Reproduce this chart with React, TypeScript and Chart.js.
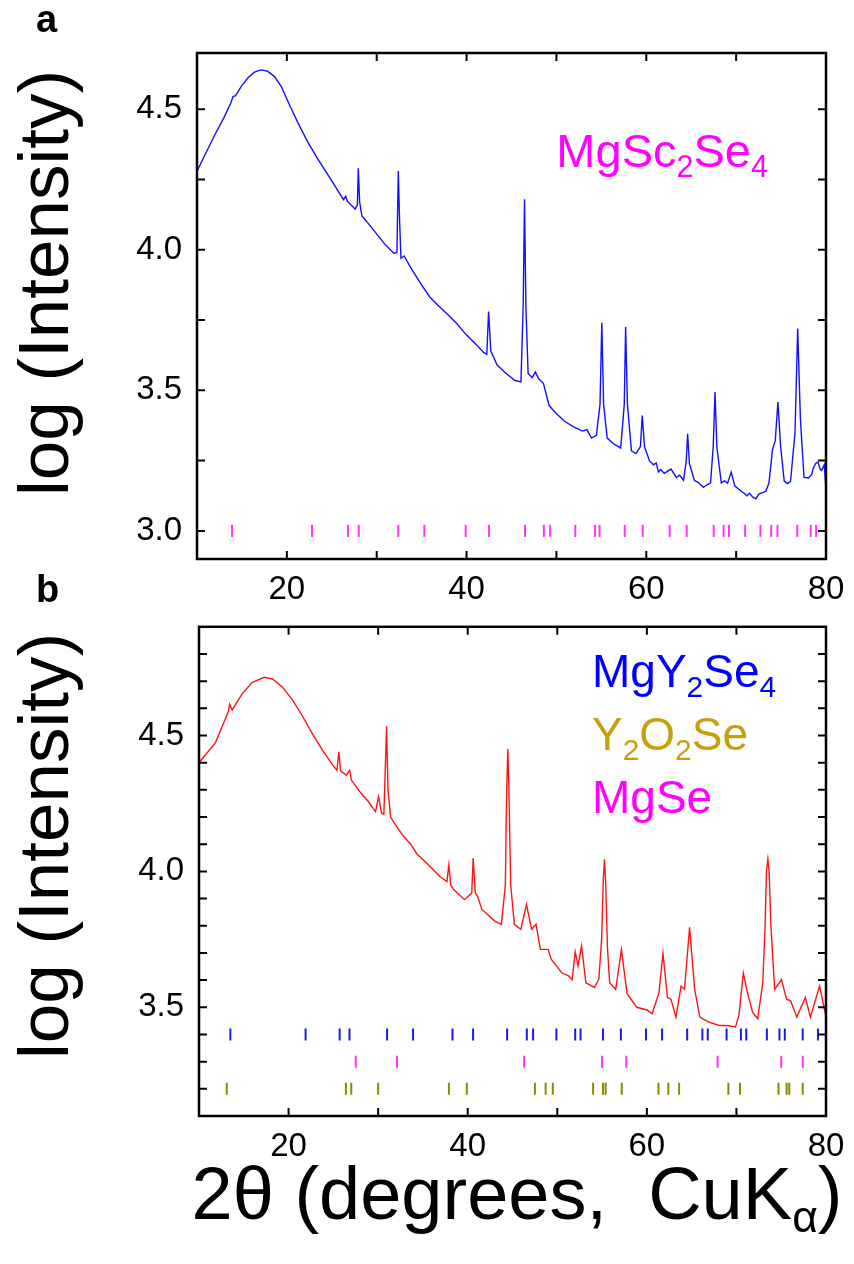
import React, { useEffect, useRef } from 'react';
import { Chart, registerables } from 'chart.js';

Chart.register(...registerables);

const FONT = '"Liberation Sans", Arial, Helvetica, sans-serif';

// ---------- data ----------
// panel a : MgSc2Se4 pattern, x = 2theta (deg), y = log(intensity)
const thetaA = [
  10.0, 11.0, 12.0, 13.0, 13.8, 14.0, 14.3, 15.0, 15.7, 16.4, 17.1, 17.8, 18.6, 19.4, 20.3, 21.3,
  22.3, 23.4, 24.4, 25.4, 26.3, 26.55, 26.75, 27.6, 27.85, 27.95, 28.1, 28.35, 28.9, 29.9, 30.9,
  31.9, 32.25, 32.4, 32.55, 32.7, 33.05, 33.9, 34.9, 35.9, 36.9, 37.9, 38.9, 39.9, 40.9, 41.9,
  42.25, 42.45, 42.7, 43.4, 44.4, 45.4, 46.05, 46.3, 46.45, 46.6, 46.85, 47.3, 47.65, 48.05, 48.55,
  48.75, 49.2, 49.9, 50.9, 51.9, 52.9, 53.4, 53.9, 54.45, 54.85, 55.05, 55.25, 55.65, 56.35, 57.15,
  57.55, 57.7, 57.9, 58.35, 58.85, 59.35, 59.55, 59.8, 60.35, 60.8, 61.1, 61.35, 61.6, 62.0, 62.75,
  63.35, 63.7, 64.15, 64.45, 64.6, 64.8, 65.35, 65.8, 66.35, 66.8, 67.15, 67.45, 67.65, 67.85, 68.35,
  68.7, 69.05, 69.45, 69.85, 70.3, 70.6, 70.85, 71.2, 71.5, 71.85, 72.2, 72.5, 72.85, 73.3, 73.65,
  74.05, 74.35, 74.65, 74.95, 75.35, 75.7, 76.05, 76.55, 76.85, 77.15, 77.55, 78.05, 78.4, 78.6,
  78.85, 79.1, 79.35, 79.5, 79.65, 79.8, 80.0,
];
const logIA = [
  4.28, 4.345, 4.41, 4.47, 4.525, 4.545, 4.548, 4.585, 4.613, 4.632, 4.64, 4.636, 4.617, 4.58, 4.515, 4.447,
  4.385, 4.325, 4.275, 4.225, 4.178, 4.19, 4.172, 4.145, 4.16, 4.29, 4.17, 4.12, 4.1, 4.06, 4.02,
  3.988, 3.99, 4.28, 4.1, 3.97, 3.978, 3.93, 3.88, 3.832, 3.8, 3.77, 3.738, 3.7, 3.668, 3.635,
  3.628, 3.78, 3.64, 3.59, 3.56, 3.535, 3.53, 3.8, 4.18, 3.8, 3.56, 3.545, 3.565, 3.54, 3.525,
  3.5, 3.445, 3.42, 3.39, 3.37, 3.355, 3.36, 3.33, 3.34, 3.45, 3.74, 3.45, 3.33, 3.31, 3.295,
  3.45, 3.725, 3.45, 3.285, 3.275, 3.3, 3.41, 3.3, 3.25, 3.235, 3.242, 3.21, 3.218, 3.205, 3.22,
  3.19, 3.198, 3.18, 3.25, 3.345, 3.24, 3.18, 3.172, 3.155, 3.165, 3.17, 3.3, 3.494, 3.3, 3.17,
  3.178, 3.17, 3.209, 3.16, 3.148, 3.14, 3.135, 3.125, 3.134, 3.12, 3.114, 3.13, 3.135, 3.14, 3.17,
  3.29, 3.32, 3.458, 3.3, 3.177, 3.168, 3.175, 3.35, 3.72, 3.4, 3.19, 3.188, 3.2, 3.225,
  3.24, 3.245, 3.22, 3.215, 3.225, 3.235, 3.15,
];

// panel b : MgY2Se4 sample
const thetaB = [
  10.0, 11.84, 13.3, 13.41, 13.71, 14.83, 15.96, 17.27, 18.21, 19.33, 20.45, 21.58, 22.7, 23.82, 24.95,
  25.4, 25.62, 25.8, 26.45, 26.82, 27.01, 27.94, 28.88, 29.7, 30.05, 30.38, 30.64, 30.8, 30.94, 31.1,
  31.39, 31.88, 32.81, 33.64, 34.31, 35.43, 36.93, 37.68, 37.9, 38.1, 38.43, 39.64, 40.45, 40.61, 40.85,
  41.1, 41.58, 43.03, 43.76, 44.2, 44.35, 44.48, 44.6, 44.8, 45.21, 45.93, 46.56, 47.14, 47.63, 48.11,
  48.98, 49.32, 50.52, 51.25, 51.66, 52.0, 52.32, 52.71, 53.19, 54.16, 54.64, 54.95, 55.15, 55.27, 55.4,
  55.6, 55.85, 56.52, 57.16, 57.79, 58.88, 60.02, 60.59, 61.35, 61.8, 62.3, 62.68, 63.25, 63.82, 64.2,
  64.77, 65.34, 65.91, 66.86, 68.0, 69.14, 69.9, 70.28, 70.77, 71.23, 71.8, 72.37, 72.94, 73.2, 73.35,
  73.51, 73.65, 73.85, 74.27, 75.03, 75.6, 76.05, 76.74, 77.69, 78.26, 79.28, 79.97,
];
const logIB = [
  4.4, 4.474, 4.59, 4.615, 4.594, 4.654, 4.696, 4.714, 4.708, 4.678, 4.63, 4.57, 4.504, 4.444, 4.39,
  4.372, 4.44, 4.37, 4.354, 4.372, 4.336, 4.294, 4.258, 4.22, 4.275, 4.215, 4.21, 4.38, 4.534, 4.3,
  4.2, 4.174, 4.13, 4.1, 4.065, 4.03, 3.98, 3.963, 4.024, 3.95, 3.933, 3.896, 3.92, 4.049, 3.92,
  3.908, 3.86, 3.817, 3.805, 3.95, 4.3, 4.45, 4.3, 3.95, 3.805, 3.787, 3.878, 3.787, 3.805, 3.713,
  3.713, 3.677, 3.626, 3.616, 3.602, 3.704, 3.652, 3.726, 3.59, 3.573, 3.604, 3.75, 3.98, 4.045, 3.96,
  3.72, 3.59, 3.566, 3.712, 3.55, 3.5, 3.49, 3.476, 3.554, 3.698, 3.536, 3.53, 3.464, 3.578, 3.566,
  3.794, 3.566, 3.464, 3.446, 3.434, 3.432, 3.428, 3.47, 3.626, 3.554, 3.482, 3.458, 3.59, 3.8, 4.0,
  4.045, 4.0, 3.8, 3.566, 3.602, 3.53, 3.524, 3.464, 3.536, 3.464, 3.578, 3.47,
];

// reference reflection positions (2theta)
const refMgSc2Se4 = [
  13.9, 22.8, 26.8, 28.0, 32.4, 35.3, 39.9, 42.5, 46.5, 48.6, 49.3, 52.1, 54.3, 54.8,
  57.6, 59.6, 62.6, 64.5, 67.5, 68.6, 69.2, 71.0, 72.7, 73.9, 74.6, 76.8, 78.3, 78.9,
];
const refMgY2Se4 = [
  13.5, 21.9, 25.7, 26.8, 31.0, 33.9, 38.3, 40.6, 44.4, 46.6, 47.3, 49.9, 52.0, 52.6, 55.1,
  57.1, 59.9, 61.7, 64.5, 66.2, 66.8, 68.9, 70.5, 71.1, 73.4, 74.8, 75.4, 77.4, 79.1,
];
const refMgSe = [27.5, 32.1, 46.3, 55.0, 57.7, 67.9, 75.0, 77.4];
const refY2O2Se = [
  13.1, 26.4, 27.0, 30.0, 37.9, 39.9, 47.5, 48.7, 49.5, 54.0, 55.1, 55.4, 57.2, 61.3,
  62.4, 63.6, 69.1, 70.4, 74.7, 75.6, 75.9, 77.4,
];

// rows (log-intensity level) where reflection bars sit
const rowMgSc2Se4 = 3.0;
const rowMgY2Se4 = 3.4;
const rowMgSe = 3.3;
const rowY2O2Se = 3.2;

// axis settings
const xMin = 10;
const xMax = 80;
const xStep = 10;
const xLabelled = [20, 40, 60, 80];
const yA = { min: 2.9, max: 4.7, step: 0.25 };
const yB = { min: 3.1, max: 4.9, step: 0.1 };
const yLabelled = [3.0, 3.5, 4.0, 4.5];

// ---------- helpers ----------
const toPts = (xs: number[], ys: number[]) => xs.map((x, i) => ({ x, y: ys[i] }));
const toRow = (xs: number[], row: number) => xs.map((x) => ({ x, y: row }));

const frameTicks = {
  id: 'frameTicks',
  afterDatasetsDraw(chart: any) {
    const { ctx, chartArea } = chart;
    const { left, right, top, bottom } = chartArea;
    const xs = chart.scales.x;
    const ys = chart.scales.y;
    const len = 8;
    ctx.save();
    ctx.strokeStyle = '#000';
    ctx.lineWidth = 2;
    ctx.beginPath();
    xs.ticks.forEach((t: any) => {
      const p = xs.getPixelForValue(t.value);
      if (p <= left + 2 || p >= right - 2) return;
      ctx.moveTo(p, bottom);
      ctx.lineTo(p, bottom - len);
      ctx.moveTo(p, top);
      ctx.lineTo(p, top + len);
    });
    ys.ticks.forEach((t: any) => {
      const p = ys.getPixelForValue(t.value);
      if (p <= top + 2 || p >= bottom - 2) return;
      ctx.moveTo(left, p);
      ctx.lineTo(left + len, p);
      ctx.moveTo(right, p);
      ctx.lineTo(right - len, p);
    });
    ctx.stroke();
    ctx.lineWidth = 2.5;
    ctx.strokeRect(left, top, right - left, bottom - top);
    ctx.restore();
  },
};

function refDataset(xs: number[], row: number, color: string) {
  return {
    data: toRow(xs, row),
    showLine: false,
    pointStyle: 'line',
    pointRotation: 90,
    pointRadius: 6,
    pointHoverRadius: 6,
    pointBorderWidth: 2,
    pointBorderColor: color,
    pointBackgroundColor: color,
    borderColor: color,
  };
}

function curveDataset(xs: number[], ys: number[], color: string) {
  return {
    data: toPts(xs, ys),
    showLine: true,
    borderColor: color,
    borderWidth: 1.4,
    pointRadius: 0,
    pointHoverRadius: 0,
    tension: 0,
  };
}

interface PanelProps {
  top: number;
  height: number;
  area: { left: number; right: number; top: number; bottom: number };
  y: { min: number; max: number; step: number };
  datasets: any[];
}

function Panel({ top, height, area, y, datasets }: PanelProps) {
  const ref = useRef<HTMLCanvasElement>(null);
  useEffect(() => {
    const chart = new Chart(ref.current as HTMLCanvasElement, {
      type: 'scatter',
      data: { datasets },
      options: {
        animation: false,
        responsive: false,
        maintainAspectRatio: false,
        events: [],
        layout: {
          padding: { left: 0, right: 854 - area.right, top: area.top, bottom: 0 },
        },
        plugins: { legend: { display: false }, tooltip: { enabled: false } },
        scales: {
          x: {
            type: 'linear',
            min: xMin,
            max: xMax,
            grid: { display: false },
            border: { display: false },
            ticks: {
              stepSize: xStep,
              autoSkip: false,
              maxRotation: 0,
              padding: 3,
              color: '#000',
              font: { size: 33, family: FONT },
              callback: (v: any) => (xLabelled.includes(Number(v)) ? String(v) : ''),
            },
            afterFit: (s: any) => {
              s.height = height - area.bottom;
            },
          },
          y: {
            type: 'linear',
            min: y.min,
            max: y.max,
            grid: { display: false },
            border: { display: false },
            ticks: {
              stepSize: y.step,
              includeBounds: false,
              autoSkip: false,
              padding: 7,
              color: '#000',
              font: { size: 33, family: FONT },
              callback: (v: any) =>
                yLabelled.some((l) => Math.abs(l - Number(v)) < 1e-6) ? Number(v).toFixed(1) : '',
            },
            afterFit: (s: any) => {
              s.width = area.left;
            },
          },
        },
      } as any,
      plugins: [frameTicks],
    });
    return () => chart.destroy();
  }, []);
  return (
    <canvas
      ref={ref}
      width={854}
      height={height}
      style={{ position: 'absolute', left: 0, top, width: 854, height }}
    />
  );
}

const sub = (t: string, size = 0.65, drop = 0.33) => (
  <span style={{ fontSize: `${size}em`, position: 'relative', top: `${drop}em` }}>{t}</span>
);

const textBase: React.CSSProperties = {
  position: 'absolute',
  fontFamily: FONT,
  lineHeight: 1,
  whiteSpace: 'nowrap',
  margin: 0,
};

export default function App() {
  const dsA = [
    curveDataset(thetaA, logIA, '#1010ff'),
    refDataset(refMgSc2Se4, rowMgSc2Se4, '#ff33ff'),
  ];
  const dsB = [
    curveDataset(thetaB, logIB, '#ff1414'),
    refDataset(refMgY2Se4, rowMgY2Se4, '#1a1ae6'),
    refDataset(refMgSe, rowMgSe, '#ff33ff'),
    refDataset(refY2O2Se, rowY2O2Se, '#8a8a00'),
  ];
  return (
    <div
      style={{
        position: 'absolute',
        left: 0,
        top: 0,
        width: 854,
        height: 1264,
        background: '#fff',
        overflow: 'hidden',
      }}
    >
      <Panel
        top={0}
        height={620}
        area={{ left: 197, right: 826, top: 53, bottom: 559 }}
        y={yA}
        datasets={dsA}
      />
      <Panel
        top={600}
        height={664}
        area={{ left: 199, right: 826, top: 18, bottom: 516 }}
        y={yB}
        datasets={dsB}
      />

      {/* panel letters */}
      <div style={{ ...textBase, left: 36, top: 0, fontSize: 38, fontWeight: 'bold' }}>a</div>
      <div style={{ ...textBase, left: 36, top: 570, fontSize: 38, fontWeight: 'bold' }}>b</div>

      {/* y axis titles */}
      <div
        style={{
          ...textBase,
          left: 43,
          top: 283,
          fontSize: 71,
          transform: 'translate(-50%, -50%) rotate(-90deg)',
        }}
      >
        log (Intensity)
      </div>
      <div
        style={{
          ...textBase,
          left: 43,
          top: 846,
          fontSize: 71,
          transform: 'translate(-50%, -50%) rotate(-90deg)',
        }}
      >
        log (Intensity)
      </div>

      {/* phase labels */}
      <div style={{ ...textBase, right: 86, top: 127, fontSize: 47, color: '#ff00ff' }}>
        MgSc{sub('2')}Se{sub('4')}
      </div>
      <div style={{ ...textBase, left: 592, top: 648, fontSize: 46, color: '#0000ff' }}>
        MgY{sub('2')}Se{sub('4')}
      </div>
      <div style={{ ...textBase, left: 592, top: 711, fontSize: 46, color: '#c8a00e' }}>
        Y{sub('2')}O{sub('2')}Se
      </div>
      <div style={{ ...textBase, left: 592, top: 774, fontSize: 46, color: '#ff00ff' }}>MgSe</div>

      {/* x axis title */}
      <div
        style={{
          ...textBase,
          left: 517,
          top: 1157,
          fontSize: 74,
          transform: 'translateX(-50%)',
        }}
      >
        2θ (degrees,{'\u00a0'} CuK{sub('α', 0.6, 0.3)})
      </div>
    </div>
  );
}
